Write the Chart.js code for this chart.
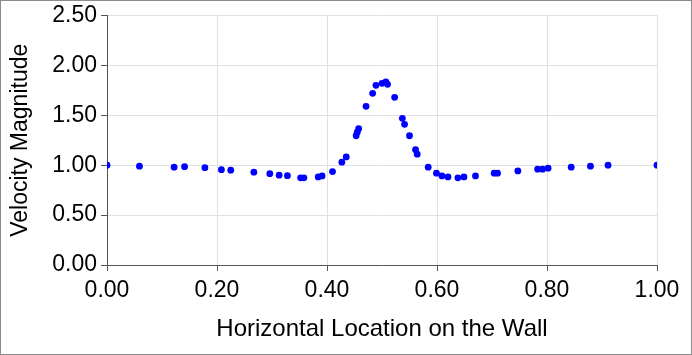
<!DOCTYPE html>
<html><head><meta charset="utf-8">
<script src="https://cdn.jsdelivr.net/npm/chart.js@4/dist/chart.umd.min.js"></script>
<style>html,body{margin:0;padding:0;background:#fff;}#wrap{width:692px;height:355px;position:relative;}</style>
</head><body><div id="wrap"><canvas id="c" width="692" height="355"></canvas></div>
<script>
const xLocation = [0, 0.059, 0.122, 0.141, 0.178, 0.208, 0.225, 0.267, 0.296, 0.313, 0.328, 0.352, 0.358, 0.384, 0.391, 0.410, 0.427, 0.435, 0.453, 0.455, 0.4575, 0.471, 0.483, 0.489, 0.500, 0.507, 0.510, 0.523, 0.537, 0.541, 0.550, 0.561, 0.564, 0.584, 0.599, 0.609, 0.620, 0.638, 0.649, 0.670, 0.704, 0.710, 0.747, 0.783, 0.792, 0.802, 0.844, 0.879, 0.911, 1.0];
const velocity = [1.00, 0.99, 0.98, 0.985, 0.975, 0.955, 0.95, 0.93, 0.915, 0.90, 0.895, 0.873, 0.873, 0.883, 0.893, 0.936, 1.03, 1.083, 1.295, 1.33, 1.365, 1.59, 1.72, 1.80, 1.82, 1.835, 1.81, 1.68, 1.47, 1.41, 1.295, 1.155, 1.11, 0.98, 0.92, 0.893, 0.883, 0.873, 0.883, 0.893, 0.92, 0.92, 0.943, 0.96, 0.96, 0.97, 0.98, 0.99, 1.0, 1.0];
const xTitle = "Horizontal Location on the Wall";
const yTitle = "Velocity Magnitude";

const points = xLocation.map((x, i) => ({x: x, y: velocity[i]}));
const FONT = "'Liberation Sans', Arial, sans-serif";

const borderPlugin = {
  id: 'outerBorder',
  afterDraw(chart) {
    const ctx = chart.ctx;
    ctx.save();
    ctx.strokeStyle = '#8c8c8c';
    ctx.lineWidth = 1;
    ctx.strokeRect(0.5, 0.5, chart.width - 1, chart.height - 1);
    ctx.restore();
  }
};

new Chart(document.getElementById('c'), {
  type: 'scatter',
  data: { datasets: [{ data: points, backgroundColor: '#0000ff', borderColor: '#0000ff', pointRadius: 3.4, pointBorderWidth: 0 }] },
  options: {
    responsive: false, animation: false,
    layout: { padding: { left: 0, right: 35, top: 14, bottom: 0 } },
    plugins: { legend: { display: false }, tooltip: { enabled: false } },
    scales: {
      x: {
        type: 'linear', min: 0, max: 1,
        ticks: { stepSize: 0.2, color: '#000', font: { family: FONT, size: 23, lineHeight: 1.0 }, padding: 8, maxRotation: 0,
                 callback: v => Number(v).toFixed(2) },
        grid: { color: '#e0e0e0', tickColor: '#555', tickLength: 6, lineWidth: 1 },
        border: { color: '#555', width: 1 },
        title: { display: true, text: xTitle, color: '#000', font: { family: FONT, size: 24 }, padding: { top: 4, bottom: 11 } },
        afterFit(s) { s.height = 90; }
      },
      y: {
        min: 0, max: 2.5,
        ticks: { stepSize: 0.5, color: '#000', font: { family: FONT, size: 23, lineHeight: 1.0 }, padding: 4,
                 callback: v => Number(v).toFixed(2) },
        grid: { color: '#e0e0e0', tickColor: '#555', tickLength: 6, lineWidth: 1 },
        border: { color: '#555', width: 1 },
        title: { display: true, text: yTitle, color: '#000', font: { family: FONT, size: 23 }, padding: { top: 7, bottom: 4 } },
        afterFit(s) { s.width = 107; }
      }
    }
  },
  plugins: [borderPlugin]
});
</script></body></html>
